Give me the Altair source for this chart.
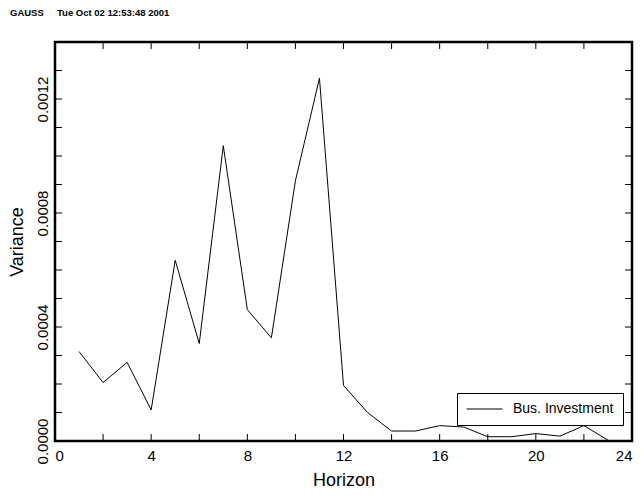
import altair as alt
import pandas as pd

horizon = list(range(1, 24))
variance = [0.000314, 0.000205, 0.000276, 0.000109, 0.000634, 0.000342,
            0.001036, 0.000461, 0.000362, 0.000913, 0.001273, 0.000195,
            0.000100, 0.000035, 0.000035, 0.000054, 0.000049, 0.000015,
            0.000015, 0.000026, 0.000017, 0.000054, 0.000003]
series_name = "Bus. Investment"
x_labels = [0, 4, 8, 12, 16, 20, 24]
y_labels = [0.0, 0.0004, 0.0008, 0.0012]
x_minor = [2, 4, 6, 8, 10, 12, 14, 16, 18, 20, 22]
y_minor = [0.0001 * i for i in range(1, 14)]
header = "GAUSS\u00a0\u00a0\u00a0\u00a0\u00a0Tue Oct 02 12:53:48 2001"

W, H = 577, 399
FONT = "Liberation Sans"

df = pd.DataFrame({"Horizon": horizon, "Variance": variance,
                   "series": [series_name] * len(horizon)})
xt = pd.DataFrame({"t": x_minor})
yt = pd.DataFrame({"t": y_minor})

xscale = alt.Scale(domain=[0, 24], nice=False, zero=False)
yscale = alt.Scale(domain=[0, 0.0014], nice=False)

line = alt.Chart(df).mark_line(strokeWidth=1).encode(
    x=alt.X("Horizon:Q", scale=xscale, title="Horizon",
            axis=alt.Axis(values=x_labels, format="d", ticks=False, tickSize=0,
                          domain=False, grid=False, labelFont=FONT,
                          labelFontSize=15, labelColor="black",
                          labelBaseline="alphabetic", labelPadding=19,
                          titleFont=FONT, titleFontSize=18, titleColor="black",
                          titleFontWeight="normal", titleY=44,
                          titleBaseline="alphabetic")),
    y=alt.Y("Variance:Q", scale=yscale, title="Variance",
            axis=alt.Axis(values=y_labels, format=".4f", ticks=False, tickSize=0,
                          domain=False, grid=False, labelFont=FONT,
                          labelFontSize=15, labelColor="black", labelAngle=-90,
                          labelAlign="center", labelBaseline="bottom",
                          labelPadding=5, titleFont=FONT, titleFontSize=18,
                          titleColor="black", titleFontWeight="normal",
                          titleX=-38, titleBaseline="middle")),
    color=alt.Color("series:N",
                    scale=alt.Scale(domain=[series_name], range=["black"]),
                    legend=alt.Legend(title=None, orient="none", legendX=402,
                                      legendY=351, fillColor="white",
                                      strokeColor="black", padding=9,
                                      symbolType="stroke", symbolSize=1296,
                                      symbolStrokeWidth=1, clipHeight=14,
                                      labelFont=FONT, labelFontSize=14,
                                      labelColor="black", labelOffset=10)),
)

tb = alt.Chart(xt).mark_rule(color="black", strokeWidth=1).encode(
    x=alt.X("t:Q", scale=xscale), y=alt.value(H), y2=alt.value(H - 7))
tt = alt.Chart(xt).mark_rule(color="black", strokeWidth=1).encode(
    x=alt.X("t:Q", scale=xscale), y=alt.value(0), y2=alt.value(7))
tl = alt.Chart(yt).mark_rule(color="black", strokeWidth=1).encode(
    y=alt.Y("t:Q", scale=yscale), x=alt.value(0), x2=alt.value(7))
tr = alt.Chart(yt).mark_rule(color="black", strokeWidth=1).encode(
    y=alt.Y("t:Q", scale=yscale), x=alt.value(W), x2=alt.value(W - 7))

chart = alt.layer(line, tb, tt, tl, tr).properties(
    width=W, height=H,
    autosize=alt.AutoSizeParams(type="none"),
    padding={"left": 47, "top": 34, "right": 2, "bottom": 52},
    title=alt.TitleParams(text=header, anchor="start", frame="group", dx=-45,
                          offset=16, baseline="alphabetic", fontSize=9.5,
                          font=FONT, fontWeight="bold", color="black"),
).configure(background="white").configure_view(stroke="black", strokeWidth=2.5)

chart.save("out.html", embed_options={"renderer": "svg", "actions": False})
